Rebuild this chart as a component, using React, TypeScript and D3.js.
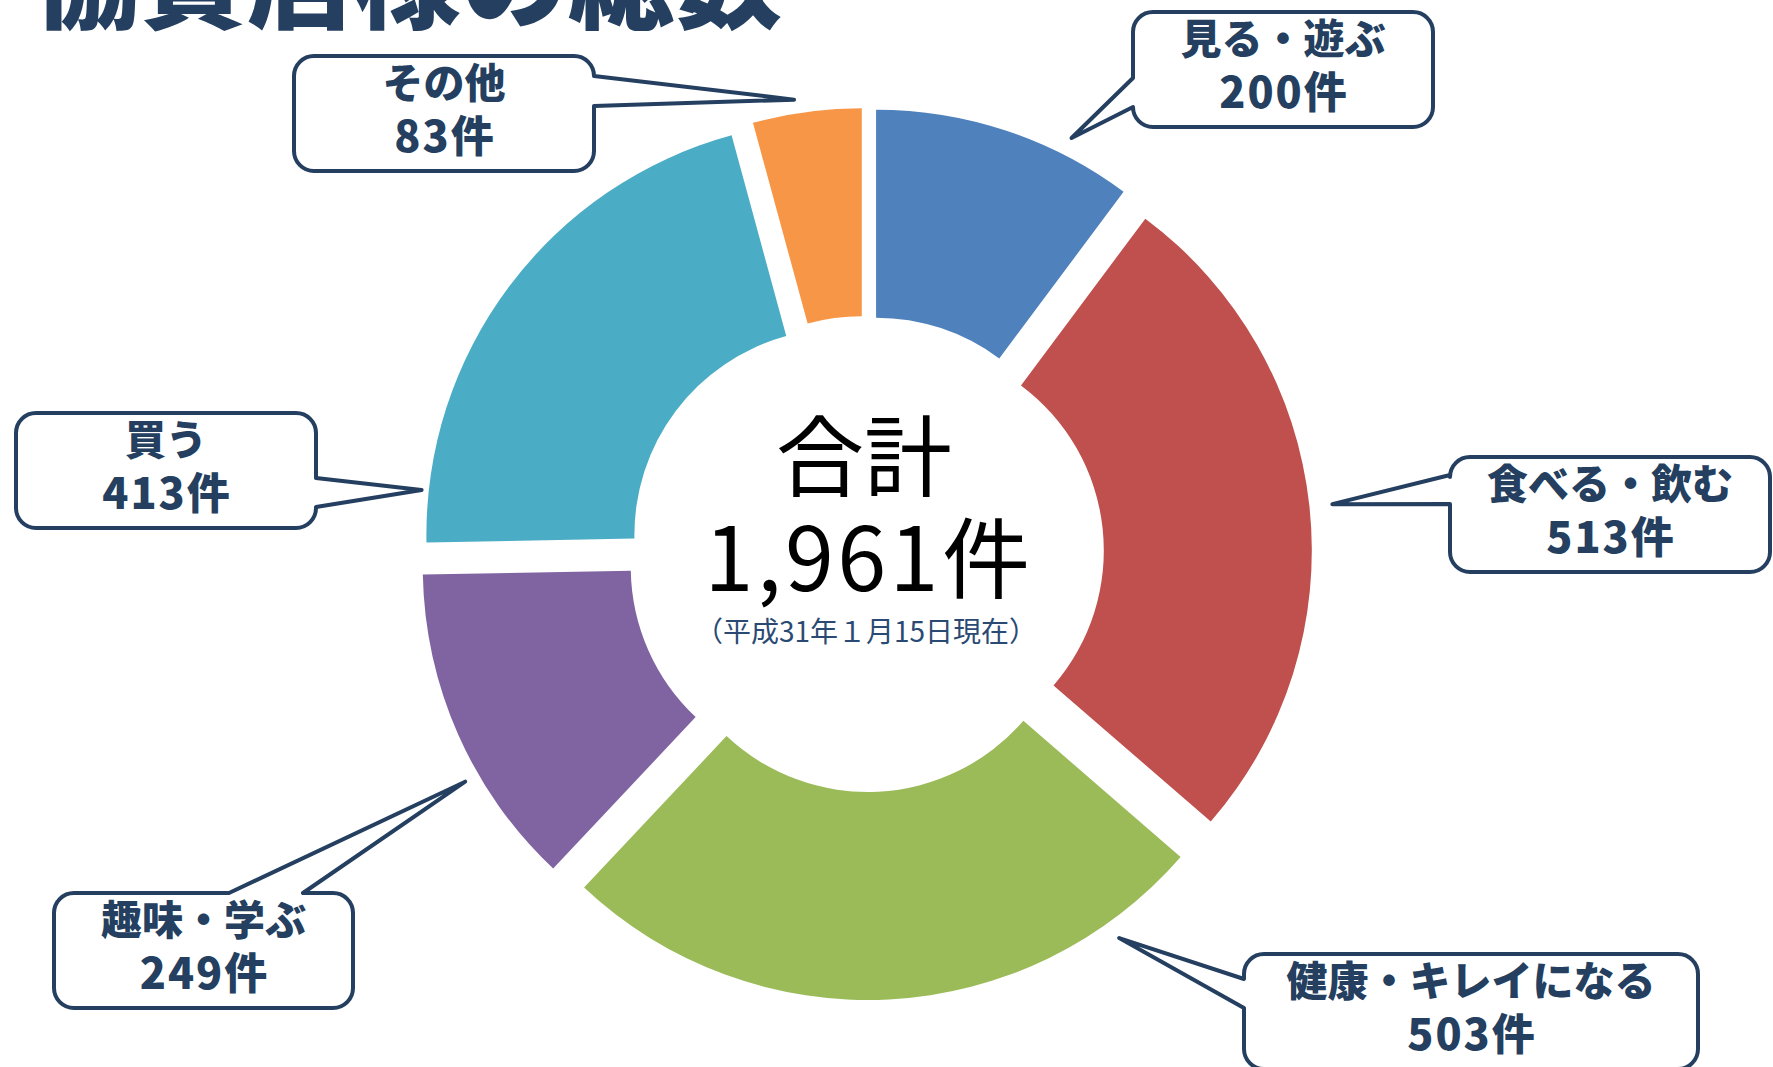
import React from 'react';
import * as d3 from 'd3';

// ---- data ----
const categories = ['見る・遊ぶ', '食べる・飲む', '健康・キレイになる', '趣味・学ぶ', '買う', 'その他'];
const values = [200, 513, 503, 249, 413, 83];
const colors = ['#4F81BD', '#C0504D', '#9BBB59', '#8064A2', '#4BACC6', '#F79646'];
const unit = '件';
const totalLabel = '合計';
const dateNote = '（平成31年１月15日現在）';
const title = '協賛店様の総数';

// ---- layout ----
const W = 1773;
const H = 1067;
const CX = 866;
const CY = 554;
const R_OUT = 414;
const R_IN = 206;
const EXPLODE = 32;
const NAVY = '#243F60';
const FONT = '"Noto Sans CJK JP", "Noto Sans", sans-serif';

type Side = 'left' | 'right' | 'top';
interface CalloutLayout {
  box: [number, number, number, number];
  side: Side;
  base: [number, number];
  tip: [number, number]; // [angle deg clockwise from 12 o'clock, radius from centre]
}

const calloutLayout: CalloutLayout[] = [
  { box: [1133, 12, 1433, 127], side: 'left', base: [78, 107], tip: [26.3, 464] },
  { box: [1450, 457, 1770, 572], side: 'left', base: [475, 504], tip: [83.9, 469] },
  { box: [1244, 954, 1698, 1069], side: 'left', base: [979, 1008], tip: [146.6, 460] },
  { box: [54, 893, 353, 1008], side: 'top', base: [229, 303], tip: [240.4, 461] },
  { box: [16, 413, 316, 528], side: 'right', base: [478, 507], tip: [278.2, 449] },
  { box: [294, 56, 594, 171], side: 'right', base: [76, 106], tip: [351, 460] },
];

function polar(angleDeg: number, r: number): [number, number] {
  const a = (angleDeg * Math.PI) / 180;
  return [CX + r * Math.sin(a), CY - r * Math.cos(a)];
}

function calloutPath(c: CalloutLayout, rr = 20): string {
  const [x0, y0, x1, y1] = c.box;
  const [tx, ty] = polar(c.tip[0], c.tip[1]);
  const [a, b] = c.base;
  const p = d3.path();
  p.moveTo(x0 + rr, y0);
  if (c.side === 'top') {
    p.lineTo(a, y0);
    p.lineTo(tx, ty);
    p.lineTo(b, y0);
  }
  p.lineTo(x1 - rr, y0);
  p.arcTo(x1, y0, x1, y0 + rr, rr);
  if (c.side === 'right') {
    p.lineTo(x1, a);
    p.lineTo(tx, ty);
    p.lineTo(x1, b);
  }
  p.lineTo(x1, y1 - rr);
  p.arcTo(x1, y1, x1 - rr, y1, rr);
  p.lineTo(x0 + rr, y1);
  p.arcTo(x0, y1, x0, y1 - rr, rr);
  if (c.side === 'left') {
    p.lineTo(x0, b);
    p.lineTo(tx, ty);
    p.lineTo(x0, a);
  }
  p.lineTo(x0, y0 + rr);
  p.arcTo(x0, y0, x0 + rr, y0, rr);
  p.closePath();
  return p.toString();
}

export default function App() {
  const pie = d3
    .pie<number>()
    .sort(null)
    .value((d) => d)
    .startAngle(0)
    .endAngle(2 * Math.PI);
  const arcs = pie(values);
  const arcGen = d3.arc<d3.PieArcDatum<number>>().innerRadius(R_IN).outerRadius(R_OUT);
  const total = d3.sum(values);
  const fmt = d3.format(',');

  return (
    <svg
      width={W}
      height={H}
      viewBox={`0 0 ${W} ${H}`}
      style={{ position: 'absolute', left: 0, top: 0, background: '#fff' }}
      fontFamily={FONT}
    >
      <rect x={0} y={0} width={W} height={H} fill="#fff" />
      <text x={33} y={20} fontSize={107} fontWeight={900} fill={NAVY}>
        {title}
      </text>

      <g transform={`translate(${CX},${CY})`}>
        {arcs.map((a, i) => {
          const mid = (a.startAngle + a.endAngle) / 2;
          const dx = EXPLODE * Math.sin(mid);
          const dy = -EXPLODE * Math.cos(mid);
          return (
            <path key={i} d={arcGen(a) || ''} fill={colors[i]} transform={`translate(${dx},${dy})`} />
          );
        })}
      </g>

      <text x={CX - 2} y={450} fontSize={88} textAnchor="middle" dominantBaseline="central" fill="#000">
        {totalLabel}
      </text>
      <text x={CX + 3} y={552} fontSize={88} letterSpacing={3.5} textAnchor="middle" dominantBaseline="central" fill="#000">
        {fmt(total) + unit}
      </text>
      <text x={CX} y={630} fontSize={28} textAnchor="middle" dominantBaseline="central" fill="#2A4A73">
        {dateNote}
      </text>

      {calloutLayout.map((c, i) => {
        const [x0, y0, x1] = c.box;
        const cx = (x0 + x1) / 2;
        return (
          <g key={i}>
            <path d={calloutPath(c)} fill="#fff" stroke={NAVY} strokeWidth={4} strokeLinejoin="round" />
            <text x={cx} y={y0 + 24} fontSize={41} fontWeight={800} textAnchor="middle" dominantBaseline="central" fill={NAVY}>
              {categories[i]}
            </text>
            <text x={cx + 1} y={y0 + 77} fontSize={43} fontWeight={800} letterSpacing={2} textAnchor="middle" dominantBaseline="central" fill={NAVY}>
              {values[i] + unit}
            </text>
          </g>
        );
      })}
    </svg>
  );
}
